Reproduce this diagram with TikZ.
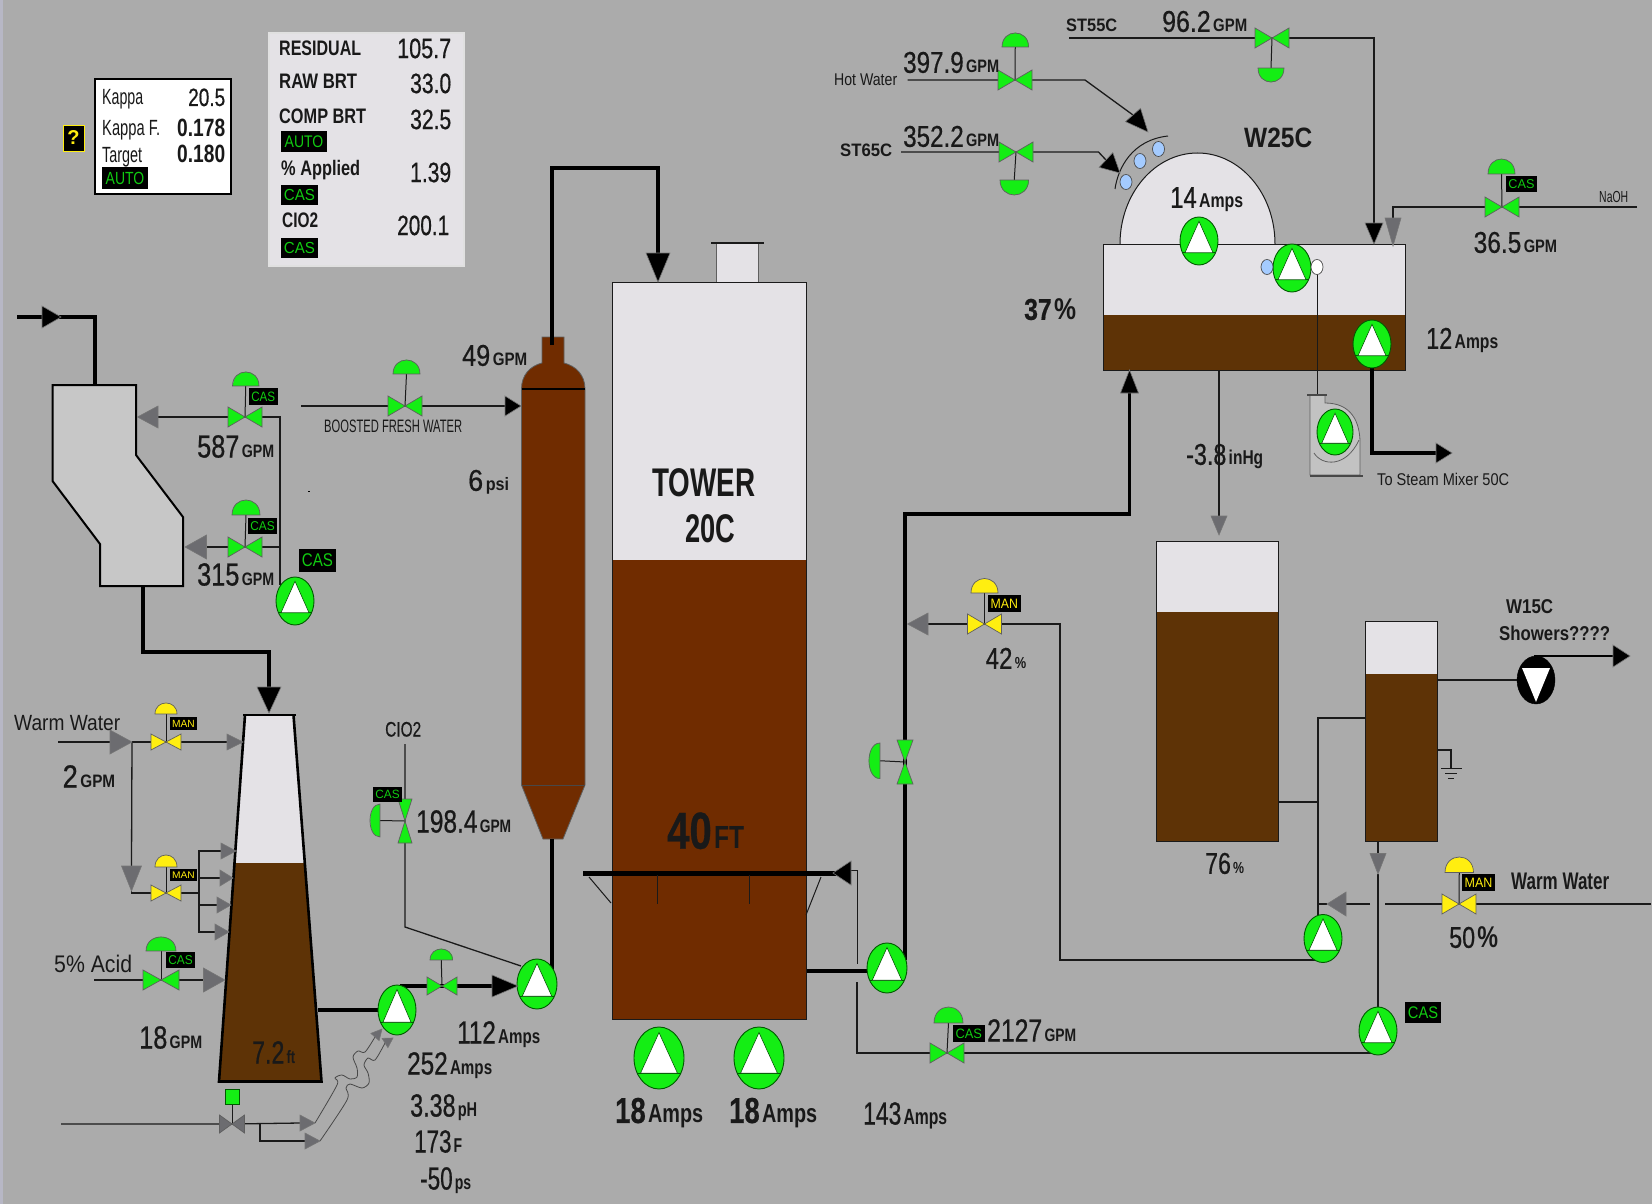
\documentclass[tikz,border=0pt]{standalone}
\usepackage{fontspec}
\setmainfont{Liberation Sans}
\newfontfamily\numf[FakeBold=0.7]{Liberation Sans}
\usetikzlibrary{calc,shapes.geometric}
\pgfdeclarelayer{bg}\pgfdeclarelayer{pipes}\pgfsetlayers{bg,pipes,main}
\definecolor{bgc}{HTML}{ABABAB}
\definecolor{grn}{HTML}{14EE14}
\definecolor{grw}{HTML}{6C6C70}
\definecolor{pale}{HTML}{E4E2E6}
\definecolor{twb}{HTML}{702C00}
\definecolor{tkb}{HTML}{5E3306}
\definecolor{ylw}{HTML}{FFEE10}
\definecolor{sky}{HTML}{A4CBFF}
\definecolor{ink}{HTML}{1A1A1A}
\tikzset{
 x=1pt,y=-1pt,
 lp/.style={draw=ink,line width=1.3pt},
 hp/.style={draw=black,line width=3.6pt,miter limit=10},
 vlv/.style={draw=ink!70,line width=.7pt,line join=miter},
 pumpn/.style={ellipse,draw=green!35!black,line width=.9pt,fill=grn,inner sep=0pt},
 txt/.style={inner sep=0pt,text=black!90},
 stbox/.style={fill=black,inner sep=0pt},
 tankline/.style={draw=ink,line width=1pt}
}
\newsavebox\lbbox
\newcounter{lb}
\newcommand\fitw[2]{\sbox\lbbox{#2}\pgfmathsetmacro\fac{(#1)/\the\wd\lbbox}\scalebox{\fac}[1]{\usebox\lbbox}}
% xl xr yc numsize unitsize num unit
\newcommand\lab[7]{\stepcounter{lb}\pgfmathsetmacro\byy{#3+0.36*#4}%
 \node[txt,anchor=base west] (lb\arabic{lb}) at (#1,\byy) {\fitw{#2-(#1)}{\fontsize{#4}{#4}\selectfont \if\relax\detokenize{#7}\relax #6\else{\numf #6}\kern3pt\fontsize{#5}{#5}\selectfont\bfseries #7\fi}};}
% status box: name x1 y1 x2 y2 text colour
\newcommand\stat[7]{\pgfmathsetmacro\wbx{#4-(#2)}\pgfmathsetmacro\hbx{#5-(#3)}\pgfmathsetmacro\cbx{(#2+#4)/2}\pgfmathsetmacro\dbx{(#3+#5)/2}\pgfmathsetmacro\fsz{\hbx*0.8}\pgfmathsetmacro\wfit{\wbx*0.84}%
 \node[stbox,minimum width=\wbx pt,minimum height=\hbx pt,text=#7] (#1) at (\cbx,\dbx) {\fitw{\wfit}{\fontsize{\fsz}{\fsz}\selectfont #6}};}
% valves: name x y colour hw hh
\newcommand\valve[6]{\coordinate (#1) at (#2,#3);
 \path[vlv,fill=#4] ($(#1)+(-#5,-#6)$) -- (#1) -- ($(#1)+(-#5,#6)$) -- cycle;
 \path[vlv,fill=#4] ($(#1)+(#5,-#6)$) -- (#1) -- ($(#1)+(#5,#6)$) -- cycle;}
\newcommand\vvalve[6]{\coordinate (#1) at (#2,#3);
 \path[vlv,fill=#4] ($(#1)+(-#5,-#6)$) -- (#1) -- ($(#1)+(#5,-#6)$) -- cycle;
 \path[vlv,fill=#4] ($(#1)+(-#5,#6)$) -- (#1) -- ($(#1)+(#5,#6)$) -- cycle;}
% actuators: valve x1 x2 y_round y_flat colour
\newcommand\acv[6]{\path[vlv,fill=#6] (#2,#5) .. controls (#2,{#5+(#4-(#5))*4/3}) and (#3,{#5+(#4-(#5))*4/3}) .. (#3,#5) -- cycle;
 \coordinate (s#1) at ({(#2+#3)/2},#5);
 \begin{pgfonlayer}{pipes}\draw[lp,line width=1pt] (s#1) -- (#1);\end{pgfonlayer}}
% side actuator: valve x_round x_flat y1 y2 colour
\newcommand\ach[6]{\path[vlv,fill=#6] (#3,#4) .. controls ({#3+(#2-(#3))*4/3},#4) and ({#3+(#2-(#3))*4/3},#5) .. (#3,#5) -- cycle;
 \coordinate (s#1) at (#3,{(#4+#5)/2});
 \begin{pgfonlayer}{pipes}\draw[lp,line width=1pt] (s#1) -- (#1);\end{pgfonlayer}}
% pump: name x y rx ry
\newcommand\pump[5]{\pgfmathsetmacro\pw{2*#4}\pgfmathsetmacro\ph{2*#5}%
 \node[pumpn,minimum width=\pw pt,minimum height=\ph pt] (#1) at (#2,#3) {};
 \path[draw=green!35!black,line width=.8pt] ({#2-0.87*#4},{#3+0.49*#5}) -- ({#2+0.87*#4},{#3+0.49*#5});
 \path[fill=white,draw=green!35!black,line width=.6pt] (#2,{#3-0.82*#5}) -- ({#2+0.74*#4},{#3+0.49*#5}) -- ({#2-0.74*#4},{#3+0.49*#5}) -- cycle;}
\newcommand\arr[4]{\path[fill=#4,draw=ink!60,line width=.6pt] ($(#2)!#3pt!90:(#1)$) -- ($(#2)!#3pt!-90:(#1)$) -- (#1) -- cycle;}
\newcommand\ball[3]{\path[fill=#3,draw=ink!80,line width=.7pt] (#1,#2) ellipse[x radius=6pt,y radius=7.5pt];}
\begin{document}
\begin{tikzpicture}
\useasboundingbox (0,0) rectangle (1652,1204);
\begin{pgfonlayer}{bg}
\fill[bgc] (0,0) rectangle (1652,1204);
\fill[black!15!blue!8!white!78!black] (0,0) rectangle (3,1204);
% feed box
\path[fill=black!22,draw=black,line width=2pt,line join=miter] (52.5,385) coordinate (boxTop) -- (136,385) -- (136,455) -- (183,517) -- (183,586) -- (100,586) -- (100,544) -- (52.5,481) -- cycle;
% trapezoid tank
\path[fill=pale] (245,715) -- (293.5,715) -- (304.8,863) -- (234.5,863) -- cycle;
\path[fill=tkb] (234.5,863) -- (304.8,863) -- (321.5,1081.5) -- (219,1081.5) -- cycle;
\draw[black,line width=2.6pt] (293.5,715) -- (321.5,1081.5) -- (219,1081.5) -- (245,715);
\draw[black,line width=2.2pt] (243,715) -- (296,715);
% washer column
\path[fill=twb,draw=ink!70,line width=.8pt] (521.5,389) .. controls (521.5,375) and (530,366) .. (542,363) -- (542,337) -- (564,337) -- (564,363) .. controls (576,366) and (585,375) .. (585,389) -- (585,785) -- (563,839) -- (543,839) -- (521.5,785) -- cycle;
\draw[black,line width=2pt] (521.5,389) -- (585,389);
\draw[ink!80,line width=1pt] (521.5,785) -- (585,785);
% main tower
\path[fill=pale,draw=ink!70,line width=.8pt] (716,243) rectangle (758,282);
\draw[ink,line width=1.6pt] (711,243) -- (764,243);
\path[fill=pale] (612,282) rectangle (806.5,559.5);
\path[fill=twb] (612,559.5) rectangle (806.5,1019);
\draw[tankline] (612,282) rectangle (806.5,1019);
% W25C
\path[fill=pale,draw=ink,line width=1pt] (1120,244) arc[start angle=180,end angle=0,x radius=77.5pt,y radius=91pt];
\path[fill=pale] (1103,244) rectangle (1405,315);
\path[fill=tkb] (1103,315) rectangle (1405,370);
\draw[tankline] (1103,244) rectangle (1405,370);
% tall tank
\path[fill=pale] (1156,541.5) rectangle (1278,612);
\path[fill=tkb] (1156,612) rectangle (1278,841);
\draw[tankline] (1156,541.5) rectangle (1278,841);
% small tank
\path[fill=pale] (1365,621) rectangle (1437,674);
\path[fill=tkb] (1365,674) rectangle (1437,841);
\draw[tankline] (1365,621) rectangle (1437,841);
\end{pgfonlayer}

% info panels
\path[fill=white,draw=black,line width=1.2pt] (95,79) rectangle (231,194);
\path[fill=pale,draw=black!12,line width=1.2pt] (269,33) rectangle (464,266);
\node[fill=black,draw=ylw,line width=.8pt,minimum width=21pt,minimum height=26pt,inner sep=0pt,text=ylw,font=\bfseries\fontsize{20}{20}\selectfont] (qbox) at (73.5,138) {?};
\lab{102}{143}{97}{22}{0}{Kappa}{}
\lab{188}{225}{97}{25}{0}{\numf 20.5}{}
\lab{102}{160}{128}{22}{0}{Kappa F.}{}
\lab{177}{225}{128}{25}{0}{\bfseries 0.178}{}
\lab{102}{142}{155}{22}{0}{Target}{}
\lab{177}{225}{153}{25}{0}{\bfseries 0.180}{}
\stat{sAuto1}{102}{167}{148}{189}{AUTO}{grn!85!black}
\lab{279}{361}{48}{21}{0}{\bfseries RESIDUAL}{}
\lab{397}{451}{48}{28}{0}{\numf 105.7}{}
\lab{279}{357}{81}{21}{0}{\bfseries RAW BRT}{}
\lab{410}{451}{83}{28}{0}{\numf 33.0}{}
\lab{279}{366}{116}{21}{0}{\bfseries COMP BRT}{}
\lab{410}{451}{119}{28}{0}{\numf 32.5}{}
\stat{sAuto2}{281}{131}{327}{152}{AUTO}{grn!85!black}
\lab{281}{360}{168}{21}{0}{\bfseries \% Applied}{}
\lab{410}{451}{172}{28}{0}{\numf 1.39}{}
\stat{sCas1}{281}{185}{318}{205}{CAS}{grn!85!black}
\lab{282}{318}{220}{21}{0}{\bfseries CIO2}{}
\lab{397}{449}{225}{28}{0}{\numf 200.1}{}
\stat{sCas2}{281}{238}{318}{258}{CAS}{grn!85!black}

% pumps
\pump{pFeed}{295}{601}{19}{24}
\pump{pWash}{397}{1010}{19}{25}
\pump{pCol}{537}{984}{20}{25}
\pump{pTw1}{659}{1058}{25}{31}
\pump{pTw2}{759}{1058}{25}{31}
\pump{pOut}{887}{968}{20}{25}
\pump{pW1}{1199}{241}{19}{24}
\pump{pW2}{1292}{268}{19}{24}
\pump{pW3}{1372}{344}{19}{24}
\pump{pLow1}{1323}{938.5}{19}{24}
\pump{pLow2}{1378}{1031}{19}{24}
% blower casing and pump
\path[fill=black!24,draw=ink!70,line width=.8pt] (1310,395) -- (1310,475) -- (1360,475) -- (1360,447) .. controls (1361,420) and (1350,403) .. (1325,403) -- (1325,395) -- cycle;
\draw[ink!70,line width=.8pt] (1314,453) .. controls (1322,466) and (1346,468) .. (1359,440);
\draw[ink!80,line width=1.2pt] (1307,395) -- (1327,395);
\draw[ink!80,line width=1.4pt] (1310,476) -- (1363,476);
\pump{pBlow}{1335}{432}{18}{23}
% black pump
\node[ellipse,fill=black,draw=black,inner sep=0pt,minimum width=38pt,minimum height=48pt] (pBlk) at (1536,680) {};
\path[fill=white] (1536,702) -- (1550,668) -- (1522,668) -- cycle;

% valves
\valve{v587}{245}{417}{grn}{17}{10}  \acv{v587}{232.5}{259}{372}{386}{grn}
\valve{v315}{245}{547}{grn}{17}{10}  \acv{v315}{232}{260}{500}{515}{grn}
\valve{vBoost}{405}{406}{grn}{17}{10} \acv{vBoost}{393}{420}{360}{374}{grn}
\valve{vWW1}{166}{742}{ylw}{15}{8}   \acv{vWW1}{155}{177}{703}{714}{ylw}
\valve{vWW2}{166}{893}{ylw}{15}{8}   \acv{vWW2}{155}{177}{855}{867}{ylw}
\valve{vAcid}{161}{980}{grn}{18}{10} \acv{vAcid}{146}{176}{937}{951}{grn}
\valve{vWash}{442}{986}{grn}{15}{9}  \acv{vWash}{430}{452.5}{949}{960}{grn}
\vvalve{vClo}{405}{821}{grn}{7}{22}  \ach{vClo}{370}{380}{804}{837}{grn}
\valve{vBot}{232}{1124}{grw}{12.5}{9}
\vvalve{vOut}{905}{762}{grn}{8}{22}  \ach{vOut}{869}{880}{743}{778.5}{grn}
\valve{vMan42}{984.5}{624}{ylw}{17}{10} \acv{vMan42}{971}{998}{578.5}{593}{ylw}
\valve{v2127}{947}{1053}{grn}{17}{10} \acv{v2127}{934}{963}{1007}{1023}{grn}
\valve{vMan50}{1459}{904}{ylw}{17}{10} \acv{vMan50}{1445}{1473.5}{857}{872.5}{ylw}
\valve{vSt55}{1272}{38}{grn}{17}{10}  \acv{vSt55}{1258}{1284}{82}{68}{grn}
\valve{vHot}{1015}{80}{grn}{17}{10}   \acv{vHot}{1002}{1028.5}{33}{47}{grn}
\valve{vSt65}{1016}{152}{grn}{17}{10} \acv{vSt65}{1000}{1028.5}{195}{180}{grn}
\valve{vNaoh}{1502}{207}{grn}{17}{10} \acv{vNaoh}{1488}{1515}{159}{174}{grn}
% square actuator of the bottom valve
\node[fill=grn,draw=green!35!black,line width=.6pt,minimum width=14pt,minimum height=15pt,inner sep=0pt] (sqBot) at (232,1096.5) {};

% named points of the connectors
\coordinate (a1s) at (17,317); \coordinate (a1b) at (42,317); \coordinate (a1t) at (61,317); \coordinate (a1c) at (95,317); \coordinate (a1e) at (95,385);
\coordinate (b1s) at (143,586); \coordinate (b1c) at (143,652); \coordinate (b1d) at (269,652); \coordinate (b1b) at (269,687); \coordinate (b1t) at (269,713);
\coordinate (t587) at (137.5,417); \coordinate (b587) at (158,417); \coordinate (j587) at (280,417);
\coordinate (t315) at (185,547); \coordinate (b315) at (206.5,547); \coordinate (j315) at (280,547); \coordinate (jFeed) at (280,585);
\coordinate (bs) at (301,406); \coordinate (bb) at (505,406); \coordinate (bt) at (521,406);
\coordinate (ww0) at (58,742); \coordinate (wwb) at (110,742); \coordinate (wwt) at (132,742);
\coordinate (ww2b) at (227,742); \coordinate (ww2t) at (243,742);
\coordinate (wdb) at (131.5,866); \coordinate (wdt) at (131.5,891); \coordinate (wdc) at (131.5,893);
\coordinate (hd) at (199,893);
\coordinate (h1) at (199,851); \coordinate (h1b) at (221,851); \coordinate (h1t) at (236,851);
\coordinate (h2) at (199,878); \coordinate (h2b) at (220,878); \coordinate (h2t) at (233,878);
\coordinate (h3) at (199,905); \coordinate (h3b) at (217,905); \coordinate (h3t) at (231,905);
\coordinate (h4) at (199,932); \coordinate (h4b) at (215,932); \coordinate (h4t) at (229,932);
\coordinate (ac0) at (94,980); \coordinate (acb) at (203.5,980); \coordinate (act) at (225,980);
\coordinate (tkOut) at (317.5,1010);
\coordinate (wt) at (400,986); \coordinate (wtb) at (492,986); \coordinate (wtt) at (518,986);
\coordinate (cl0) at (405,744); \coordinate (cl1) at (405,927); \coordinate (cl2) at (521,966);
\coordinate (colBot) at (552,839); \coordinate (colTop) at (552,345); \coordinate (colUp) at (552,168); \coordinate (twUp) at (658,168); \coordinate (twB) at (658,253); \coordinate (twT) at (658,282);
\coordinate (bar0) at (583,873); \coordinate (barb) at (851,873); \coordinate (bart) at (833,873); \coordinate (barc) at (857,870);
\coordinate (rc1) at (857,964); \coordinate (rc2) at (857,982); \coordinate (rc3) at (857,1053);
\coordinate (sl1) at (589,877); \coordinate (sl2) at (611,903); \coordinate (sr1) at (821,877); \coordinate (sr2) at (806,915);
\coordinate (d1) at (657,875); \coordinate (d2) at (657,904); \coordinate (d3) at (749,875); \coordinate (d4) at (749,904);
\coordinate (twOut) at (806.5,971); \coordinate (o1) at (905,514); \coordinate (o2) at (1129.5,514); \coordinate (o3) at (1129.5,393); \coordinate (o4) at (1129.5,370); \coordinate (oP) at (905,960);
\coordinate (r2127) at (1378,1053); \coordinate (sd1) at (1378,841); \coordinate (sdb) at (1378,853.5); \coordinate (sdt) at (1378,874);
\coordinate (m1) at (1385,904); \coordinate (m2) at (1370,904); \coordinate (mb) at (1346,904); \coordinate (mt) at (1327,904); \coordinate (mj) at (1318,904); \coordinate (mE) at (1651,904);
\coordinate (up1) at (1318,718); \coordinate (up2) at (1365,718); \coordinate (tt) at (1278,802); \coordinate (ttj) at (1318,802);
\coordinate (lo1) at (1321,960); \coordinate (lo2) at (1060,960); \coordinate (lo3) at (1060,624);
\coordinate (a42b) at (928,624); \coordinate (a42t) at (907.5,624);
\coordinate (st0) at (1069,38); \coordinate (stc) at (1374,38); \coordinate (stb) at (1374,223); \coordinate (stt) at (1374,244);
\coordinate (h0) at (907.5,80); \coordinate (hc) at (1085,80); \coordinate (hb) at (1133,115); \coordinate (ht) at (1148,132);
\coordinate (f0) at (901,152); \coordinate (fc) at (1098.5,152); \coordinate (fb) at (1106,160); \coordinate (ft) at (1120,173);
\coordinate (s1) at (1115,189); \coordinate (s2) at (1168,136);
\coordinate (n0) at (1637,207); \coordinate (nc) at (1393,207); \coordinate (nb) at (1393,218); \coordinate (nt) at (1393,246);
\coordinate (vac0) at (1219,370); \coordinate (vacb) at (1219,516); \coordinate (vact) at (1219,535);
\coordinate (ex1) at (1372,453); \coordinate (exb) at (1436,453); \coordinate (ext) at (1452,453);
\coordinate (bl1) at (1317,273); \coordinate (bl2) at (1317,395);
\coordinate (bk0) at (1437,680); \coordinate (bk1) at (1533.5,656); \coordinate (bkb) at (1613,656); \coordinate (bkt) at (1630,656);
\coordinate (g0) at (1437,750); \coordinate (g1) at (1451,750); \coordinate (g2) at (1451,768);
\coordinate (y0) at (61,1124); \coordinate (yb1) at (300,1123); \coordinate (yt1) at (315,1123); \coordinate (yj) at (260,1124); \coordinate (yc) at (260,1141); \coordinate (yb2) at (305,1141); \coordinate (yt2) at (320,1141);
\coordinate (z1b) at (375,1037); \coordinate (z1t) at (382,1029); \coordinate (z2b) at (385,1043); \coordinate (z2t) at (393,1038);

\begin{pgfonlayer}{pipes}
\draw[hp] (a1s) -- (a1c) -- (a1e);
\draw[hp] (b1s) -- (b1c) -- (b1d) -- (b1b);
\draw[lp] (b587) -- (v587) -- (j587) -- (jFeed);
\draw[lp] (b315) -- (v315) -- (j315);
\draw[lp] (bs) -- (vBoost) -- (bb);
\draw[lp] (ww0) -- (wwb); \draw[lp] (wwt) -- (vWW1) -- (ww2b);
\draw[lp] (wwt) -- (wdb); \draw[lp] (wdt) -- (wdc) -- (vWW2) -- (hd);
\draw[lp] (h1b) -- (h1) -- (h4) -- (h4b);
\draw[lp] (h2) -- (h2b); \draw[lp] (h3) -- (h3b);
\draw[lp] (ac0) -- (vAcid) -- (acb);
\draw[hp] (tkOut) -- (pWash.center);
\draw[hp] (wt) -- (wtb);
\draw[lp] (cl0) -- (vClo) -- (cl1) -- (cl2);
\draw[hp] (colBot) -- (colBot |- pCol.center);
\draw[hp] (colTop) -- (colUp) -- (twUp) -- (twB);
\draw[line width=5pt,black] (bar0) -- (barb);
\draw[lp,line width=1pt] (sl1) -- (sl2); \draw[lp,line width=1pt] (sr1) -- (sr2);
\draw[lp,line width=1pt] (d1) -- (d2); \draw[lp,line width=1pt] (d3) -- (d4);
\draw[lp,line width=1pt] (barb |- barc) -- (barc) -- (rc1); \draw[lp] (rc2) -- (rc3) -- (v2127) -- (r2127) -- (pLow2.center);
\draw[hp] (twOut) -- (pOut.center |- twOut);
\draw[hp] (oP) -- (o1) -- (o2) -- (o3);
\draw[lp] (sd1) -- (sdb); \draw[lp] (sdt) -- (pLow2.center);
\draw[lp] (mE) -- (vMan50) -- (m1); \draw[lp] (m2) -- (mb); \draw[lp] (mt) -- (mj);
\draw[lp] (up2) -- (up1) -- (pLow1.center -| up1);
\draw[lp] (tt) -- (ttj);
\draw[lp] (lo1) -- (lo2) -- (lo3) -- (vMan42) -- (a42b);
\draw[lp] (st0) -- (vSt55) -- (stc) -- (stb);
\draw[lp] (h0) -- (vHot) -- (hc) -- (hb);
\draw[lp] (f0) -- (vSt65) -- (fc) -- (fb);
\draw[lp,line width=1pt] (s1) .. controls (1118,168) and (1132,140) .. (s2);
\draw[lp] (n0) -- (vNaoh) -- (nc) -- (nb);
\draw[lp] (vac0) -- (vacb);
\draw[hp] (pW3.center) -- (ex1) -- (exb);
\draw[lp,line width=1pt] (bl1) -- (bl2);
\draw[lp] (bk0) -- (pBlk.center);
\draw[line width=2pt,black] (bk1) -- (bkb);
\draw[lp] (g0) -- (g1) -- (g2);
\draw[lp,line width=1pt] (g2) ++(-10,0) -- ++(21,0);
\draw[lp,line width=1pt] (g2) ++(-6,5) -- ++(12,0);
\draw[lp,line width=1pt] (g2) ++(-3,10) -- ++(6,0);
\draw[lp] (y0) -- (vBot) -- (yb1); \draw[lp] (yj) -- (yc) -- (yb2);
\draw[lp,line width=1pt] (sqBot) -- (vBot);
\draw[ink!80,line width=.8pt] plot[smooth,tension=.5] coordinates {(315,1123) (337,1085) (335,1078) (342,1075) (350,1079) (357,1077) (357,1068) (353,1057) (358,1051) (365,1052) (z1b)};
\draw[ink!80,line width=.8pt] plot[smooth,tension=.5] coordinates {(320,1141) (347,1100) (346,1088) (350,1084) (362,1088) (369,1083) (368,1073) (364,1065) (368,1058) (375,1060) (z2b)};
\end{pgfonlayer}

% arrowheads
\arr{a1t}{a1b}{11}{black}
\arr{b1t}{b1b}{12}{black}
\arr{t587}{b587}{11}{grw}
\arr{t315}{b315}{12}{grw}
\arr{bt}{bb}{10}{black}
\arr{wwt}{wwb}{12}{grw}
\arr{ww2t}{ww2b}{8}{grw}
\arr{wdt}{wdb}{10}{grw}
\arr{h1t}{h1b}{8}{grw}
\arr{h2t}{h2b}{8}{grw}
\arr{h3t}{h3b}{8}{grw}
\arr{h4t}{h4b}{8}{grw}
\arr{act}{acb}{12}{grw}
\arr{wtt}{wtb}{11}{black}
\arr{twT}{twB}{12}{black}
\arr{bart}{barb}{12}{black}
\arr{o4}{o3}{9}{black}
\arr{sdt}{sdb}{8}{grw}
\arr{mt}{mb}{12}{grw}
\arr{a42t}{a42b}{11}{grw}
\arr{stt}{stb}{9}{black}
\arr{ht}{hb}{10}{black}
\arr{ft}{fb}{10}{black}
\arr{nt}{nb}{8}{grw}
\arr{vact}{vacb}{8}{grw}
\arr{ext}{exb}{10}{black}
\arr{bkt}{bkb}{11}{black}
\arr{yt1}{yb1}{8}{grw}
\arr{yt2}{yb2}{8}{grw}
\arr{z1t}{z1b}{5.5}{grw}
\arr{z2t}{z2b}{5.5}{grw}
\ball{1126}{182}{sky}\ball{1140}{161}{sky}\ball{1158.5}{149}{sky}
\ball{1267}{267}{sky}\ball{1317}{267}{white}
\fill[black] (308,490.5) rectangle (310,491.5);

% status boxes
\stat{sc587}{249}{388}{277.5}{405}{CAS}{grn!85!black}
\stat{sc315}{248}{518}{277}{534}{CAS}{grn!85!black}
\stat{scFeed}{299}{549}{336}{572}{CAS}{grn!85!black}
\stat{sMan1}{170}{717}{197}{730}{MAN}{ylw}
\stat{sMan2}{170}{869}{197}{881}{MAN}{ylw}
\stat{scAcid}{166}{952}{195}{968}{CAS}{grn!85!black}
\stat{scClo}{373}{787}{402}{802}{CAS}{grn!85!black}
\stat{sMan42}{988}{595}{1020.5}{612}{MAN}{ylw}
\stat{sc2127}{953}{1025}{984.5}{1042}{CAS}{grn!85!black}
\stat{sMan50}{1462}{874}{1495}{891}{MAN}{ylw}
\stat{scLow}{1405}{1002}{1441}{1023}{CAS}{grn!85!black}
\stat{scNaoh}{1506}{176}{1537}{192}{CAS}{grn!85!black}

% value labels
\lab{197}{274}{446}{32}{18}{587}{GPM}
\lab{197}{274}{574}{32}{18}{315}{GPM}
\lab{462}{527}{355}{30}{18}{49}{GPM}
\lab{468}{509}{480}{30}{18}{6}{psi}
\lab{324}{462}{426}{18}{0}{BOOSTED FRESH WATER}{}
\lab{14}{120}{723}{22}{0}{Warm Water}{}
\lab{62.5}{115}{776}{32}{18}{2}{GPM}
\lab{54}{132}{964}{24}{0}{5\% Acid}{}
\lab{139}{202}{1037}{32}{18}{18}{GPM}
\lab{252}{295}{1052}{32}{18}{7.2}{ft}
\lab{385}{421}{729}{21}{0}{\numf CIO2}{}
\lab{416}{511}{821}{32}{18}{198.4}{GPM}
\lab{457}{540}{1032}{32}{20}{112}{Amps}
\lab{407}{492}{1063}{32}{20}{252}{Amps}
\lab{410}{477}{1105}{32}{20}{3.38}{pH}
\lab{414}{462}{1141}{32}{20}{173}{F}
\lab{420}{471}{1178}{32}{20}{-50}{ps}
\lab{652}{755}{482}{40}{0}{\bfseries TOWER}{}
\lab{685}{735}{528}{40}{0}{\bfseries 20C}{}
\lab{667}{744}{830}{52}{32}{\bfseries 40}{FT}
\lab{615}{703}{1110}{36}{26}{\bfseries 18}{Amps}
\lab{729}{817}{1110}{36}{26}{\bfseries 18}{Amps}
\lab{863}{947}{1113}{32}{22}{143}{Amps}
\lab{987}{1076}{1030}{32}{18}{2127}{GPM}
\lab{985.5}{1026}{658}{30}{16}{42}{\%}
\lab{1205}{1244}{863}{30}{16}{76}{\%}
\lab{1449}{1498}{937}{30}{30}{50}{\%}
\lab{1511}{1609}{881}{24}{0}{\bfseries Warm Water}{}
\lab{1506}{1553}{606}{20}{0}{\bfseries W15C}{}
\lab{1499}{1610}{633}{20}{0}{\bfseries Showers????}{}
\lab{1066}{1117}{25}{18}{0}{\bfseries ST55C}{}
\lab{1162}{1247}{21}{30}{18}{96.2}{GPM}
\lab{834}{897}{79}{17}{0}{Hot Water}{}
\lab{903}{999}{62}{30}{18}{397.9}{GPM}
\lab{840}{892}{150}{18}{0}{\bfseries ST65C}{}
\lab{903}{999}{136}{30}{18}{352.2}{GPM}
\lab{1244}{1312}{137}{28}{0}{\bfseries W25C}{}
\lab{1024}{1076}{309}{30}{30}{\bfseries 37}{\%}
\lab{1170}{1243}{197}{30}{20}{14}{Amps}
\lab{1426}{1498}{338}{30}{20}{12}{Amps}
\lab{1473.5}{1557}{242}{30}{18}{36.5}{GPM}
\lab{1599}{1628}{197}{16}{0}{NaOH}{}
\lab{1186}{1263}{454}{30}{20}{-3.8}{inHg}
\lab{1377}{1509}{479}{17}{0}{To Steam Mixer 50C}{}
\end{tikzpicture}
\end{document}
